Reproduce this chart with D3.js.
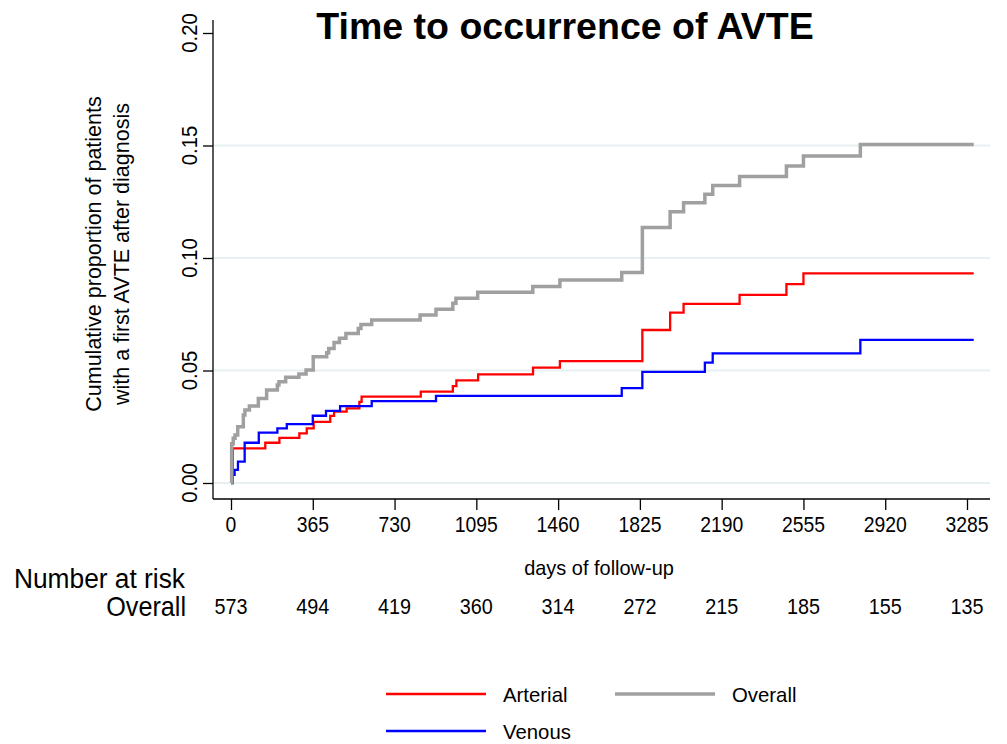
<!DOCTYPE html>
<html>
<head>
<meta charset="utf-8">
<script src="https://cdn.jsdelivr.net/npm/d3@7"></script>
<style>
  body { margin: 0; background: #fff; }
  svg { display: block; font-family: "Liberation Sans", Arial, Helvetica, sans-serif; }
</style>
</head>
<body>
<svg id="chart" width="1007" height="744"></svg>
<script>
// step points: [day, cumulative proportion after the step]
const arterial = [
  [0, 0], [8, 0.0154], [153, 0.0179], [216, 0.0201], [305, 0.0221], [338, 0.0243],
  [369, 0.0272], [443, 0.0298], [460, 0.0317], [516, 0.0332], [573, 0.0361], [583, 0.0384],
  [847, 0.0406], [990, 0.0431], [1006, 0.0456], [1103, 0.0483], [1348, 0.0513], [1468, 0.0542],
  [1836, 0.068], [1960, 0.0757], [2020, 0.0796], [2270, 0.0836], [2479, 0.0884], [2555, 0.0932]
];
const venous = [
  [0, 0], [3, 0.0036], [16, 0.0058], [31, 0.0095], [61, 0.0179], [124, 0.0224], [207, 0.0243],
  [249, 0.0262], [365, 0.0299], [424, 0.0321], [487, 0.0342], [628, 0.0364], [915, 0.0387],
  [1744, 0.0422], [1836, 0.0494], [2115, 0.0535], [2150, 0.0576], [2809, 0.0636]
];
const overall = [
  [0, 0], [3, 0.0175], [10, 0.0199], [18, 0.0213], [30, 0.025], [55, 0.0302], [62, 0.0324],
  [82, 0.0342], [122, 0.0376], [159, 0.0413], [207, 0.0436], [214, 0.045], [244, 0.047],
  [303, 0.0484], [335, 0.0502], [367, 0.0561], [427, 0.0579], [436, 0.0598], [460, 0.0624],
  [484, 0.0643], [513, 0.0665], [568, 0.0687], [580, 0.0705], [628, 0.0724], [844, 0.0747],
  [915, 0.0772], [990, 0.0799], [1004, 0.0821], [1101, 0.0848], [1347, 0.0873], [1468, 0.0902],
  [1744, 0.0936], [1836, 0.1136], [1960, 0.1206], [2020, 0.1246], [2115, 0.1283], [2150, 0.1322],
  [2270, 0.1362], [2479, 0.1409], [2555, 0.1453], [2809, 0.1505]
];
const lastDay = 3315;

const xTicks = [0, 365, 730, 1095, 1460, 1825, 2190, 2555, 2920, 3285];
const yTicks = [0, 0.05, 0.10, 0.15, 0.20];
const atRisk = [573, 494, 419, 360, 314, 272, 215, 185, 155, 135];

const series = [
  { name: 'Arterial', data: arterial, color: '#ff0000', width: 2.3 },
  { name: 'Venous', data: venous, color: '#0000ff', width: 2.3 },
  { name: 'Overall', data: overall, color: '#a0a0a0', width: 3.5 }
];

const svg = d3.select('#chart');
const x = d3.scaleLinear().domain([0, 3285]).range([231, 967]);
const y = d3.scaleLinear().domain([0, 0.2]).range([483, 33]);
const plotLeft = 213, plotRight = 990, plotTop = 20, plotBottom = 499;

// text helper, sx squeezes glyphs along the text
function label(px, py, txt, opt) {
  const o = Object.assign({ size: 21, anchor: 'middle', rot: 0, sx: 1, weight: 'normal' }, opt);
  svg.append('text')
    .attr('transform', `translate(${px},${py}) rotate(${o.rot}) scale(${o.sx},1)`)
    .attr('text-anchor', o.anchor)
    .attr('font-size', o.size)
    .attr('font-weight', o.weight)
    .attr('fill', '#000')
    .text(txt);
}

// gridlines
svg.append('g').selectAll('line')
  .data(yTicks.filter(d => d < 0.2))
  .join('line')
  .attr('x1', plotLeft + 1).attr('x2', plotRight)
  .attr('y1', d => y(d)).attr('y2', d => y(d))
  .attr('stroke', '#e6eff1').attr('stroke-width', 1.8);

// axes
const yAxis = svg.append('g').attr('transform', `translate(${plotLeft},0)`)
  .call(d3.axisLeft(y).tickValues(yTicks).tickSize(10).tickFormat(''));
yAxis.select('.domain').remove();
yAxis.selectAll('line').attr('stroke', '#000').attr('stroke-width', 1.3);
svg.append('line').attr('x1', plotLeft).attr('x2', plotLeft)
  .attr('y1', plotTop).attr('y2', plotBottom).attr('stroke', '#000').attr('stroke-width', 1.3);

const xAxis = svg.append('g').attr('transform', `translate(0,${plotBottom})`)
  .call(d3.axisBottom(x).tickValues(xTicks).tickSize(11).tickFormat(''));
xAxis.select('.domain').remove();
xAxis.selectAll('line').attr('stroke', '#000').attr('stroke-width', 1.3);
svg.append('line').attr('x1', plotLeft).attr('x2', plotRight)
  .attr('y1', plotBottom).attr('y2', plotBottom).attr('stroke', '#000').attr('stroke-width', 1.3);

yTicks.forEach(t => label(197, y(t), d3.format('.2f')(t), { rot: -90, sx: 0.92, size: 22 }));
xTicks.forEach(t => label(x(t), 532, String(t), { sx: 0.9, size: 21.5 }));

// curves
const stepLine = d3.line().x(d => x(d[0])).y(d => y(d[1])).curve(d3.curveStepAfter);
series.forEach(s => {
  const pts = s.data.concat([[lastDay, s.data[s.data.length - 1][1]]]);
  svg.append('path')
    .datum(pts)
    .attr('d', stepLine)
    .attr('fill', 'none')
    .attr('stroke', s.color)
    .attr('stroke-width', s.width)
    .attr('stroke-linejoin', 'miter');
});

// titles
label(565, 39, 'Time to occurrence of AVTE', { size: 37.5, weight: 'bold' });
label(101, 254, 'Cumulative proportion of patients', { rot: -90, size: 21.5 });
label(129, 254, 'with a first AVTE after diagnosis', { rot: -90, size: 21.5 });
label(599, 575, 'days of follow-up', { size: 21, sx: 0.95 });

// number at risk table
label(14, 588, 'Number at risk', { anchor: 'start', size: 28, sx: 0.94 });
label(186, 616, 'Overall', { anchor: 'end', size: 28, sx: 0.9 });
atRisk.forEach((n, i) => label(x(xTicks[i]), 614, String(n), { size: 22, sx: 0.9 }));

// legend
const legendItems = [
  { s: series[0], lx: 386, ty: 694 },
  { s: series[2], lx: 615, ty: 694 },
  { s: series[1], lx: 386, ty: 731 }
];
legendItems.forEach(it => {
  svg.append('line')
    .attr('x1', it.lx).attr('x2', it.lx + 100)
    .attr('y1', it.ty).attr('y2', it.ty)
    .attr('stroke', it.s.color).attr('stroke-width', it.s.width);
  label(it.lx + 117, it.ty + 8, it.s.name, { anchor: 'start', size: 21, sx: 0.97 });
});
</script>
</body>
</html>
